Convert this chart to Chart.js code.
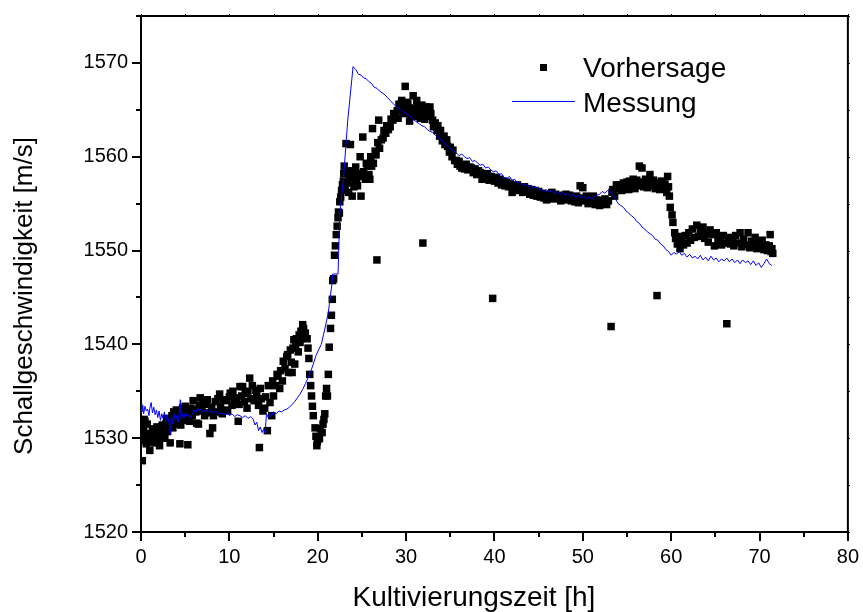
<!DOCTYPE html>
<html>
<head>
<meta charset="utf-8">
<title>Schallgeschwindigkeit</title>
<script src="https://cdn.jsdelivr.net/npm/chart.js@4.4.1/dist/chart.umd.min.js"></script>
<style>
  html, body { margin: 0; padding: 0; background: #fff; }
  #chart { display: block; }
</style>
</head>
<body>
<canvas id="chart" width="863" height="612"></canvas>
<script>
// Vorhersage (predicted), one row per stretch of the run
const predHours = [
  0.1,0.15,0.2,0.3,0.35,0.45,0.5,0.6,0.7,0.8,0.9,1.0,1.05,1.2,1.3,1.4,1.5,1.6,1.7,1.8,1.9,2.0,2.1,2.2,2.3,2.4,2.5,2.6,2.7,2.8,2.9,3.0,3.1,3.2,3.3,3.4,3.5,3.6,3.7,3.8,3.9,4.0,4.1,4.2,4.3,4.4,4.5,4.6,4.7,4.8,4.9,5.0,5.2,5.3,5.5,
  5.6,5.8,5.9,6.0,6.2,6.3,6.5,6.6,6.7,6.9,7.0,7.2,7.4,7.5,7.7,7.8,8.0,8.1,8.2,8.4,8.5,8.7,8.9,9.0,9.2,9.4,9.5,9.7,9.8,10.0,10.1,10.3,10.4,10.6,10.8,11.0,11.1,11.2,11.4,11.5,11.7,11.8,12.0,12.1,12.3,12.4,12.6,12.8,13.0,13.1,13.3,13.4,13.5,13.6,13.8,14.0,14.1,14.3,14.4,14.6,14.8,14.9,15.0,
  15.2,15.4,15.5,15.7,15.8,16.0,16.1,16.3,16.5,16.6,16.7,16.9,17.0,17.1,17.2,17.3,17.4,17.5,17.6,17.8,17.9,18.0,18.1,18.2,18.3,18.4,
  18.6,18.8,18.9,19.0,19.1,19.2,19.3,19.4,19.5,
  19.7,19.8,19.9,19.95,20.1,20.2,20.3,20.5,20.6,20.7,20.8,20.9,21.0,21.1,
  21.2,21.3,21.45,21.55,21.65,21.7,21.8,21.9,22.0,22.1,22.2,22.3,22.35,22.45,22.5,22.6,
  22.7,22.8,22.9,22.95,23.0,23.1,23.2,23.3,23.4,23.5,23.6,23.7,23.8,23.9,24.0,24.1,24.2,24.3,24.4,24.5,24.6,24.8,24.9,25.0,25.1,25.2,25.4,25.5,25.6,25.8,25.9,26.0,26.1,26.2,26.3,26.5,26.6,26.7,26.8,26.9,27.0,
  27.2,27.4,27.5,27.7,27.8,28.0,28.2,28.3,28.5,28.6,28.8,29.0,29.1,29.2,29.4,29.5,29.7,29.8,29.9,30.0,30.2,30.3,30.4,30.5,30.6,30.8,30.9,31.0,31.2,31.3,31.4,31.6,31.7,31.8,31.9,32.0,32.1,32.3,32.4,32.5,32.7,32.8,33.0,
  33.1,33.3,33.5,33.6,33.8,33.9,34.1,34.3,34.4,34.6,34.7,34.9,35.0,35.2,35.3,35.5,35.7,35.8,36.0,36.1,36.3,36.4,36.6,36.8,37.0,37.2,37.4,37.6,37.8,38.0,38.2,38.4,
  38.6,38.8,39.0,39.2,39.4,39.6,39.8,40.0,40.2,40.4,40.6,40.8,41.0,41.2,41.4,41.6,41.8,42.0,42.2,42.4,42.6,42.8,43.0,43.2,43.4,43.6,43.8,44.0,44.2,44.4,44.6,44.8,45.0,45.2,45.4,45.6,45.9,46.1,46.3,46.5,46.7,46.9,47.1,47.3,47.5,47.7,47.9,48.1,48.3,48.5,48.7,48.9,49.1,49.3,49.5,49.7,49.9,50.0,50.2,50.4,50.6,50.8,51.0,51.2,51.4,51.6,51.9,52.1,52.3,52.5,52.7,52.9,
  53.2,53.3,53.4,53.6,53.8,54.0,54.2,54.4,54.6,54.8,55.0,55.2,55.3,55.5,55.7,55.9,56.1,56.3,56.4,56.6,56.7,56.9,57.1,57.3,57.5,57.6,57.8,58.0,58.2,58.4,58.5,58.7,58.9,59.1,59.3,59.5,59.6,59.7,59.8,
  59.9,60.1,60.2,60.4,60.5,60.7,60.8,61.0,61.2,61.4,
  61.6,61.8,62.0,62.2,62.4,62.6,62.9,63.1,63.3,63.6,63.8,64.0,64.2,64.4,64.7,64.9,65.1,65.3,65.5,65.7,65.9,66.1,66.3,66.5,66.7,66.9,67.1,67.3,67.5,67.8,68.0,68.2,68.4,68.7,68.9,69.1,69.3,69.5,69.7,69.9,70.1,70.3,70.5,70.7,70.9,71.1,71.2,71.3,71.4,71.5
];
const predSpeed = [
  1530.2,1527.6,1529.7,1531.0,1532.0,1531.8,1530.5,1529.4,1531.5,1530.0,1529.6,1528.7,1530.4,1529.8,1531.0,1530.2,1529.5,1530.8,1530.1,1531.2,1529.9,1530.6,1529.2,1531.0,1530.4,1531.4,1530.8,1531.3,1530.0,1531.5,1532.1,1530.7,1532.0,1531.4,1529.5,1531.6,1532.4,1531.1,1532.8,1531.5,1531.9,1533.0,1531.8,1532.2,1532.9,1529.4,1531.4,1532.6,1533.2,1532.7,1531.9,1533.4,1532.6,1529.3,1531.8,
  1533.2,1532.4,1534.0,1533.1,1532.8,1531.6,1531.5,1533.5,1534.3,1532.9,1533.8,1532.4,1533.6,1534.1,1532.7,1530.5,1533.3,1531.1,1532.4,1533.9,1532.8,1534.2,1534.7,1533.4,1532.6,1534.1,1533.0,1534.0,1532.9,1534.4,1534.8,1533.5,1535.0,1533.8,1534.3,1531.8,1533.6,1535.5,1534.5,1535.5,1533.9,1534.8,1533.2,1535.0,1536.4,1534.2,1535.6,1534.0,1535.1,1534.7,1533.5,1529.0,1535.3,1534.2,1532.9,1533.2,1534.4,1530.8,1535.6,1533.8,1532.4,1536.1,1534.5,
  1535.6,1536.8,1536.6,1535.3,1537.2,1536.1,1538.2,1537.4,1538.7,1538.9,1537.0,1539.4,1538.1,1537.0,1539.6,1540.5,1537.9,1539.8,1540.6,1539.2,1541.0,1540.2,1541.4,1540.6,1542.1,1541.7,
  1541.2,1540.6,1539.6,1538.5,1536.8,1535.6,1534.5,1533.4,1532.4,
  1531.1,1530.2,1529.2,1529.6,1529.9,1530.0,1531.0,1530.6,1531.5,1532.0,1532.6,1534.5,1535.3,1534.5,
  1536.8,1539.7,1541.7,1543.1,1544.8,1546.8,1547.0,1549.5,1550.5,1551.7,1552.6,1553.5,1554.1,1554.0,1555.2,1555.7,
  1556.4,1557.0,1557.4,1558.2,1559.0,1556.5,1561.4,1558.5,1557.2,1556.2,1557.8,1561.3,1558.0,1555.8,1558.5,1556.8,1557.3,1558.9,1557.5,1556.9,1558.2,1560.0,1555.8,1557.9,1562.1,1558.4,1557.6,1559.3,1559.0,1558.1,1557.6,1560.0,1559.0,1563.0,1559.3,1560.6,1560.2,1549.0,1561.5,1563.9,1560.9,
  1561.8,1562.0,1562.8,1562.5,1563.3,1562.9,1563.2,1564.0,1563.9,1564.6,1564.2,1564.9,1564.1,1565.6,1565.0,1566.0,1565.3,1564.6,1567.5,1565.8,1565.7,1564.9,1563.8,1565.2,1564.4,1566.5,1565.0,1564.3,1566.0,1565.3,1564.6,1564.1,1564.9,1565.5,1550.8,1564.7,1564.0,1565.3,1565.0,1564.3,1565.3,1564.6,1563.9,
  1563.2,1563.6,1562.8,1563.3,1562.2,1562.8,1561.7,1562.2,1561.3,1561.8,1561.1,1560.5,1561.0,1560.0,1560.7,1559.6,1559.6,1559.2,1559.5,1559.0,1558.8,1559.1,1558.7,1559.2,1558.6,1558.9,1558.8,1558.3,1558.7,1558.1,1558.5,1558.3,
  1557.6,1558.0,1557.8,1558.2,1557.5,1557.9,1544.9,1557.4,1557.8,1557.2,1557.6,1557.0,1557.4,1556.9,1557.3,1556.8,1557.1,1556.2,1556.9,1556.6,1557.0,1556.4,1556.7,1556.2,1556.8,1556.3,1556.6,1556.0,1556.5,1555.9,1556.4,1555.8,1556.3,1555.7,1556.1,1555.6,1555.4,1556.0,1555.7,1556.2,1555.5,1556.0,1555.6,1555.9,1555.3,1555.8,1555.5,1556.0,1555.4,1555.9,1555.3,1555.7,1555.2,1555.8,1555.1,1556.9,1555.6,1556.7,1555.3,1555.8,1555.0,1555.5,1555.2,1555.8,1554.9,1555.4,1554.8,1555.3,1555.0,1555.5,1554.9,1555.3,
  1541.9,1556.2,1556.5,1555.8,1557.0,1556.6,1557.0,1556.4,1557.2,1556.7,1557.3,1556.5,1557.4,1556.9,1557.6,1556.6,1557.5,1556.9,1559.0,1557.3,1558.8,1556.8,1557.6,1556.7,1557.4,1558.1,1556.9,1557.5,1556.6,1545.2,1557.2,1556.5,1557.4,1556.7,1557.1,1556.2,1557.9,1556.8,1555.8,
  1554.6,1553.8,1553.0,1551.9,1551.3,1550.7,1551.5,1550.2,1551.2,1550.6,
  1551.6,1550.8,1551.9,1551.1,1552.3,1551.4,1552.7,1551.5,1552.1,1552.5,1551.3,1551.8,1550.9,1552.2,1551.7,1550.5,1551.9,1551.0,1551.2,1550.6,1551.6,1550.8,1542.2,1551.4,1550.7,1551.3,1550.5,1551.6,1550.8,1551.9,1550.4,1551.2,1550.6,1551.9,1550.3,1551.0,1550.5,1551.4,1550.2,1550.9,1550.4,1551.1,1550.1,1550.6,1550.0,1550.5,1551.7,1549.9,1550.2,1549.7
];

// Messung (measured)
const measHours = [
  0.0,0.1,0.2,0.3,0.45,0.6,0.75,0.9,1.0,1.15,1.3,1.45,1.6,1.75,1.9,2.05,2.2,2.35,2.5,2.65,2.8,2.95,3.1,3.25,3.35,3.45,3.6,3.75,3.9,4.05,4.2,4.35,4.45,4.55,4.7,4.85,5.0,
  5.2,5.4,5.6,5.8,6.0,6.2,6.4,6.6,6.8,7.0,7.3,7.6,7.9,8.2,8.5,8.8,9.1,9.4,9.7,10.0,10.3,10.6,10.9,11.2,11.5,11.8,12.1,12.4,12.7,12.9,13.1,13.3,13.5,13.7,13.9,14.05,14.2,14.4,14.6,14.8,15.0,15.3,15.6,15.9,16.2,16.5,16.8,17.1,17.4,17.7,18.0,18.3,18.6,18.9,19.2,19.5,19.8,20.1,20.4,20.7,21.0,21.2,21.4,21.6,21.7,
  22.3,22.5,22.9,23.4,24.0,
  24.3,24.6,24.9,25.2,25.5,25.8,26.1,26.4,26.7,27.0,27.3,27.6,27.9,28.2,28.5,28.8,29.1,29.4,29.7,30.0,30.3,30.6,30.9,31.2,31.5,31.8,32.1,32.4,32.7,33.0,33.3,33.6,33.9,34.2,34.5,34.8,35.1,35.4,35.7,36.0,36.3,36.6,36.9,37.2,37.5,37.8,38.1,38.4,38.7,39.0,39.3,39.6,39.9,40.2,40.5,40.8,41.1,41.4,41.7,42.0,42.3,42.6,42.9,43.2,43.5,43.8,44.1,44.4,44.7,45.0,45.3,45.6,45.9,46.2,46.5,46.8,47.1,47.4,47.7,48.0,48.3,48.6,48.9,49.2,49.5,49.8,50.1,50.4,50.7,51.0,51.3,51.6,51.9,52.2,52.5,52.8,53.1,53.4,
  53.7,54.0,54.3,54.6,54.9,55.2,55.5,55.8,56.1,56.4,56.7,57.0,57.3,57.6,57.9,58.2,58.5,58.8,59.1,59.4,59.7,60.0,60.3,60.6,60.9,61.2,61.5,61.8,62.1,62.4,62.7,63.0,63.3,63.6,63.9,64.2,64.5,64.8,65.1,65.4,65.7,66.0,66.3,66.6,66.9,67.2,67.5,67.8,68.1,68.4,68.7,69.0,69.3,69.6,69.9,70.2,70.5,70.8,71.1,71.4
];
const measSpeed = [
  1533.6,1532.8,1533.5,1532.6,1533.4,1532.9,1533.1,1532.4,1533.2,1533.8,1532.7,1533.3,1532.5,1533.0,1532.2,1532.9,1531.9,1532.6,1532.1,1532.8,1531.8,1532.5,1532.0,1531.2,1530.4,1532.3,1531.5,1532.6,1531.9,1532.4,1531.7,1532.8,1534.1,1532.0,1532.6,1532.2,1532.7,
  1532.3,1532.5,1532.2,1532.6,1533.0,1532.7,1533.2,1532.9,1533.1,1532.8,1533.0,1532.8,1532.9,1532.7,1532.9,1532.6,1532.7,1532.5,1532.7,1532.4,1532.6,1532.3,1532.5,1532.4,1532.2,1532.4,1532.1,1532.3,1532.0,1531.4,1531.7,1530.8,1531.2,1530.6,1531.0,1530.5,1532.6,1532.2,1532.7,1532.4,1532.8,1532.6,1532.9,1532.8,1533.0,1533.1,1533.3,1533.6,1533.9,1534.3,1534.7,1535.2,1535.8,1536.4,1537.1,1537.9,1538.8,1539.4,1540.0,1541.2,1542.5,1543.4,1544.9,1546.4,1547.5,
  1547.5,1554.0,1557.5,1563.9,1569.6,
  1569.3,1568.8,1568.7,1568.4,1568.3,1568.0,1567.8,1567.4,1567.3,1567.0,1566.8,1566.6,1566.3,1566.0,1565.7,1565.4,1565.2,1565.0,1564.8,1564.6,1564.4,1564.2,1563.9,1563.7,1563.5,1563.3,1563.2,1562.9,1562.7,1562.6,1562.3,1562.1,1561.8,1561.6,1561.3,1561.1,1560.8,1560.6,1560.4,1560.1,1560.3,1560.0,1559.8,1559.9,1559.5,1559.6,1559.3,1559.1,1559.2,1558.8,1558.9,1558.6,1558.4,1558.5,1558.1,1558.2,1557.8,1557.7,1557.9,1557.5,1557.6,1557.2,1557.3,1557.0,1557.1,1556.8,1556.9,1556.7,1556.8,1556.5,1556.6,1556.3,1556.5,1556.2,1556.4,1556.1,1556.3,1556.0,1556.2,1555.9,1556.1,1555.8,1556.0,1555.7,1555.9,1555.6,1555.8,1555.5,1555.7,1555.5,1555.7,1555.9,1556.0,1556.3,1556.1,1556.4,1556.2,1556.0,
  1555.5,1555.0,1554.8,1554.6,1554.2,1554.0,1553.7,1553.5,1553.1,1552.9,1552.5,1552.3,1552.0,1551.8,1551.6,1551.2,1551.1,1550.7,1550.5,1550.1,1549.9,1549.5,1549.8,1549.6,1549.9,1549.5,1549.7,1549.3,1549.6,1549.2,1549.4,1549.1,1549.5,1549.0,1549.3,1548.9,1549.4,1549.0,1549.2,1548.8,1549.1,1548.9,1549.2,1548.8,1549.1,1548.7,1549.0,1548.6,1549.0,1548.7,1548.9,1548.5,1548.9,1548.4,1548.7,1548.2,1548.6,1549.1,1548.6,1548.4
];

// axis ticks and titles
const xTicks = [0, 10, 20, 30, 40, 50, 60, 70, 80];
const yTicks = [1520, 1530, 1540, 1550, 1560, 1570];
const xMinor = [5, 15, 25, 35, 45, 55, 65, 75];
const yMinor = [1525, 1535, 1545, 1555, 1565, 1575];
const xTitle = 'Kultivierungszeit [h]';
const yTitle = 'Schallgeschwindigkeit [m/s]';

const FONT = '"Liberation Sans", Arial, Helvetica, sans-serif';
Chart.defaults.font.family = FONT;
Chart.defaults.color = '#000';

const toPoints = (xs, ys) => xs.map((x, i) => ({ x: x, y: ys[i] }));

// minor ticks, top/right frame, axis titles
const frame = {
  id: 'frame',
  afterDraw(chart) {
    const { ctx, chartArea: a, scales: { x, y } } = chart;
    ctx.save();
    ctx.strokeStyle = '#000';
    ctx.lineWidth = 2;
    ctx.beginPath();
    ctx.moveTo(a.left, a.top);
    ctx.lineTo(a.right, a.top);
    ctx.lineTo(a.right, a.bottom);
    xMinor.forEach(v => {
      const px = Math.round(x.getPixelForValue(v));
      ctx.moveTo(px, a.bottom);
      ctx.lineTo(px, a.bottom + 5);
    });
    yMinor.forEach(v => {
      const py = Math.round(y.getPixelForValue(v));
      ctx.moveTo(a.left, py);
      ctx.lineTo(a.left - 5, py);
    });
    ctx.stroke();
    // tiny outward ticks on the opposite axes
    ctx.lineWidth = 1;
    ctx.beginPath();
    xTicks.concat(xMinor).forEach(v => {
      const px = Math.round(x.getPixelForValue(v)) + 0.5;
      ctx.moveTo(px, a.top);
      ctx.lineTo(px, a.top - 2);
    });
    yTicks.concat(yMinor).forEach(v => {
      const py = Math.round(y.getPixelForValue(v)) + 0.5;
      ctx.moveTo(a.right, py);
      ctx.lineTo(a.right + 2, py);
    });
    ctx.stroke();

    ctx.fillStyle = '#000';
    ctx.textAlign = 'center';
    // x title, a bit left of the axis middle
    ctx.font = '28px ' + FONT;
    ctx.textBaseline = 'alphabetic';
    ctx.fillText(xTitle, 474, 606);
    // rotated y title, a bit below the axis middle
    ctx.translate(25, 296);
    ctx.rotate(-Math.PI / 2);
    ctx.font = '26px ' + FONT;
    ctx.textBaseline = 'middle';
    ctx.fillText(yTitle, 0, 0);
    ctx.restore();
  }
};

// legend inside the plot
const keyBox = {
  id: 'keyBox',
  afterDraw(chart) {
    const ctx = chart.ctx;
    const meas = chart.data.datasets[0];
    const pred = chart.data.datasets[1];
    ctx.save();
    ctx.fillStyle = pred.backgroundColor;
    ctx.fillRect(540, 64, 7, 7);
    ctx.strokeStyle = meas.borderColor;
    ctx.lineWidth = 1;
    ctx.beginPath();
    ctx.moveTo(512, 101.5);
    ctx.lineTo(575, 101.5);
    ctx.stroke();
    ctx.fillStyle = '#000';
    ctx.font = '28px ' + FONT;
    ctx.textBaseline = 'alphabetic';
    ctx.fillText(pred.label, 583, 77);
    ctx.fillText(meas.label, 583, 112);
    ctx.restore();
  }
};

new Chart(document.getElementById('chart'), {
  type: 'scatter',
  data: {
    datasets: [
      {
        label: 'Messung',
        data: toPoints(measHours, measSpeed),
        showLine: true,
        borderColor: '#0000ff',
        borderWidth: 1,
        pointRadius: 0,
        tension: 0,
        order: 0
      },
      {
        label: 'Vorhersage',
        data: toPoints(predHours, predSpeed),
        pointStyle: 'rect',
        pointRadius: 5.3,
        borderWidth: 0,
        backgroundColor: '#000',
        borderColor: '#000',
        order: 1
      }
    ]
  },
  options: {
    responsive: false,
    animation: false,
    events: [],
    layout: { padding: { top: 11, right: 15, bottom: 0, left: 0 } },
    plugins: { legend: { display: false }, tooltip: { enabled: false } },
    scales: {
      x: {
        type: 'linear',
        min: 0,
        max: 80,
        afterBuildTicks: s => { s.ticks = xTicks.map(v => ({ value: v })); },
        afterFit: s => { s.height = 80; },
        grid: { drawOnChartArea: false, drawTicks: true, tickLength: 9, lineWidth: 2, color: '#000' },
        border: { display: true, color: '#000', width: 2 },
        ticks: { font: { size: 20 }, padding: 4, maxRotation: 0, autoSkip: false, callback: v => String(v) },
        title: { display: false }
      },
      y: {
        type: 'linear',
        min: 1520,
        max: 1575,
        afterBuildTicks: s => { s.ticks = yTicks.map(v => ({ value: v })); },
        afterFit: s => { s.width = 141; },
        grid: { drawOnChartArea: false, drawTicks: true, tickLength: 9, lineWidth: 2, color: '#000' },
        border: { display: true, color: '#000', width: 2 },
        ticks: { font: { size: 20 }, padding: 4, callback: v => String(v) },
        title: { display: false }
      }
    }
  },
  plugins: [frame, keyBox]
});
</script>
</body>
</html>
